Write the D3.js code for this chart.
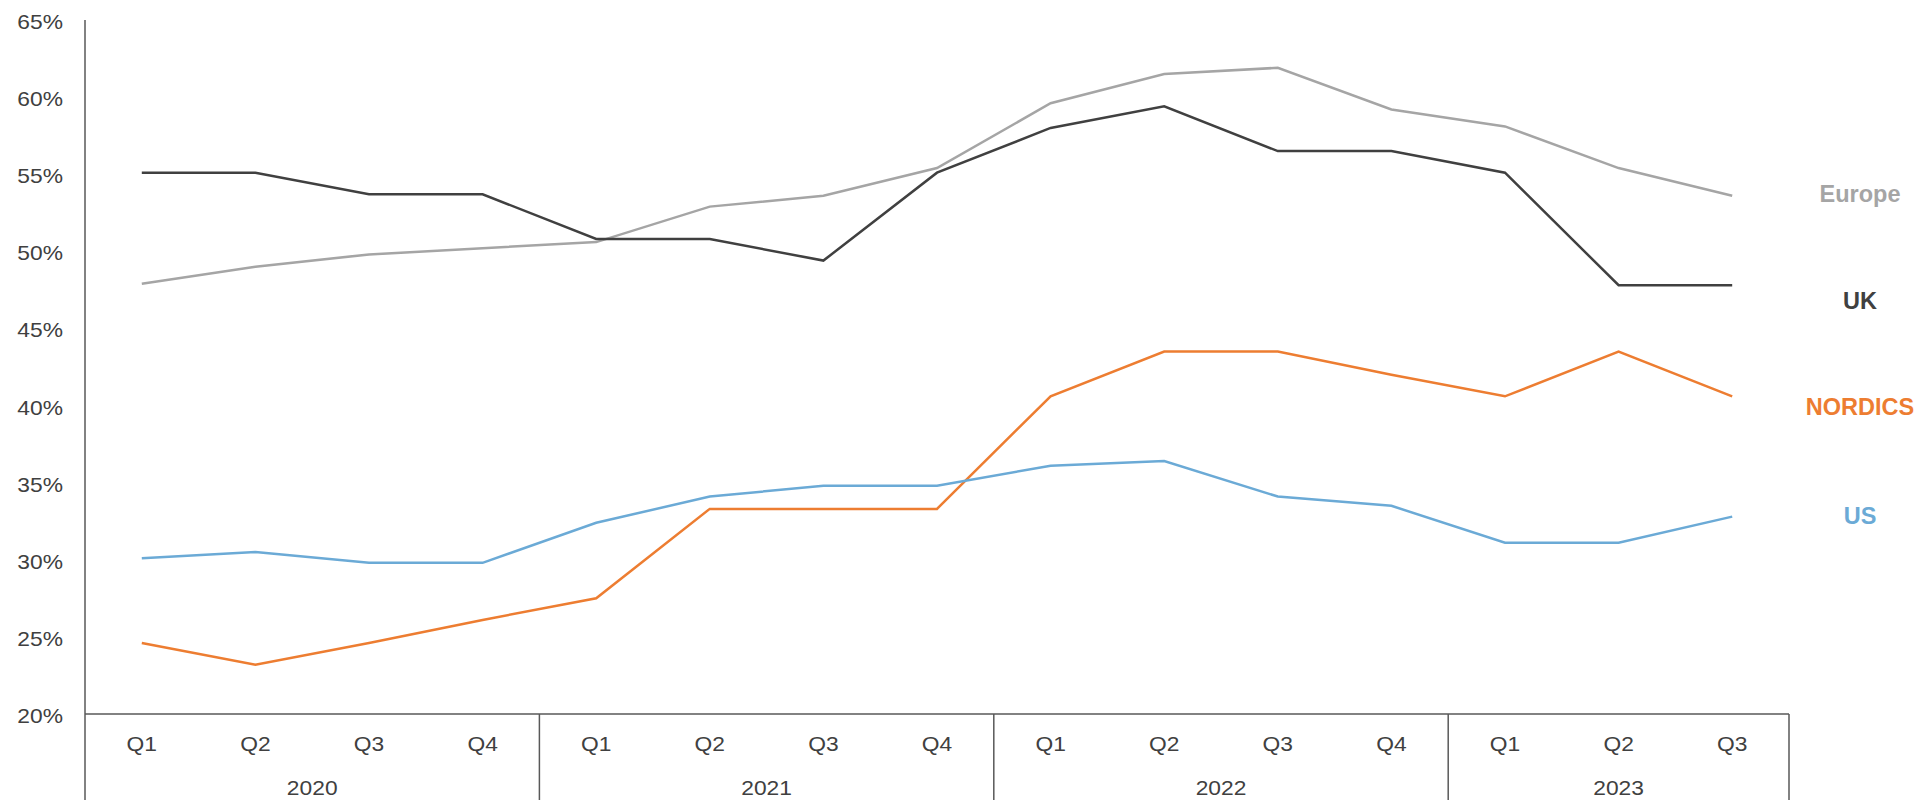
<!DOCTYPE html>
<html>
<head>
<meta charset="utf-8">
<script src="https://cdn.jsdelivr.net/npm/d3@7/dist/d3.min.js"></script>
<style>
  html, body { margin: 0; padding: 0; background: #fff; }
  svg { display: block; font-family: "Liberation Sans", Arial, sans-serif; }
</style>
</head>
<body>
<svg id="chart" width="1929" height="800"></svg>
<script>
const years = ["2020", "2021", "2022", "2023"];
const quarters = ["Q1","Q2","Q3","Q4","Q1","Q2","Q3","Q4","Q1","Q2","Q3","Q4","Q1","Q2","Q3"];
const quarterYear = ["2020","2020","2020","2020","2021","2021","2021","2021","2022","2022","2022","2022","2023","2023","2023"];
const yTicks = [20, 25, 30, 35, 40, 45, 50, 55, 60, 65];

const seriesNames = ["Europe", "UK", "NORDICS", "US"];
const europe  = [47.9, 49.0, 49.8, 50.2, 50.6, 52.9, 53.6, 55.4, 59.6, 61.5, 61.9, 59.2, 58.1, 55.4, 53.6];
const uk      = [55.1, 55.1, 53.7, 53.7, 50.8, 50.8, 49.4, 55.1, 58.0, 59.4, 56.5, 56.5, 55.1, 47.8, 47.8];
const nordics = [24.6, 23.2, 24.6, 26.1, 27.5, 33.3, 33.3, 33.3, 40.6, 43.5, 43.5, 42.0, 40.6, 43.5, 40.6];
const us      = [30.1, 30.5, 29.8, 29.8, 32.4, 34.1, 34.8, 34.8, 36.1, 36.4, 34.1, 33.5, 31.1, 31.1, 32.8];
const colors  = ["#A5A5A5", "#404040", "#ED7D31", "#6BAAD6"];

(function () {
const svg = d3.select("#chart");
const mLeft = 85, mRight = 1789, mTop = 20, mBottom = 714;
const textColor = "#404040";
const axisColor = "#595959";
const fs = 20, sx = 1.14;

const idx = d3.range(quarters.length);
const x = d3.scaleBand().domain(idx).range([mLeft, mRight]).paddingInner(0).paddingOuter(0);
const xc = i => x(i) + x.bandwidth() / 2;
const y = d3.scaleLinear().domain([20, 65]).range([mBottom, mTop]);

// Y axis labels
svg.append("g").selectAll("text").data(yTicks).join("text")
  .attr("transform", d => `translate(63,${y(d) + 2}) scale(${sx},1)`)
  .attr("dy", "0.35em")
  .attr("text-anchor", "end").attr("font-size", fs).attr("fill", textColor)
  .text(d => d + "%");

// Left axis line (extends through category area)
svg.append("line").attr("x1", mLeft).attr("x2", mLeft).attr("y1", mTop).attr("y2", 800)
  .attr("stroke", axisColor).attr("stroke-width", 1.5);
// Bottom axis line
svg.append("line").attr("x1", mLeft).attr("x2", mRight).attr("y1", mBottom).attr("y2", mBottom)
  .attr("stroke", axisColor).attr("stroke-width", 1.5);

// Year separators
const yearGroups = years.map(yr => {
  const ids = idx.filter(i => quarterYear[i] === yr);
  return { yr, start: x(ids[0]), end: x(ids[ids.length - 1]) + x.bandwidth() };
});
svg.append("g").selectAll("line").data(yearGroups).join("line")
  .attr("x1", d => d.end).attr("x2", d => d.end)
  .attr("y1", mBottom).attr("y2", 800)
  .attr("stroke", axisColor).attr("stroke-width", 1.5);

// Quarter labels
svg.append("g").selectAll("text").data(idx).join("text")
  .attr("transform", i => `translate(${xc(i)},744) scale(${sx},1)`)
  .attr("dy", "0.35em")
  .attr("text-anchor", "middle").attr("font-size", fs).attr("fill", textColor)
  .text(i => quarters[i]);

// Year labels
svg.append("g").selectAll("text").data(yearGroups).join("text")
  .attr("transform", d => `translate(${(d.start + d.end) / 2},788) scale(${sx},1)`)
  .attr("dy", "0.35em")
  .attr("text-anchor", "middle").attr("font-size", fs).attr("fill", textColor)
  .text(d => d.yr);

// Lines
const allSeries = [europe, uk, nordics, us];
const line = d3.line().x((d, i) => xc(i)).y(d => y(d));
svg.append("g").selectAll("path").data(allSeries).join("path")
  .attr("d", d => line(d))
  .attr("fill", "none")
  .attr("stroke", (d, i) => colors[i])
  .attr("stroke-width", 2.5)
  .attr("stroke-linejoin", "miter");

// Series labels on the right
const labelY = [194, 301, 407, 516];
svg.append("g").selectAll("text").data(seriesNames).join("text")
  .attr("x", 1860).attr("y", (d, i) => labelY[i]).attr("dy", "0.35em")
  .attr("text-anchor", "middle").attr("font-size", 23.5).attr("font-weight", "bold")
  .attr("fill", (d, i) => colors[i])
  .text(d => d);
})();
</script>
</body>
</html>
